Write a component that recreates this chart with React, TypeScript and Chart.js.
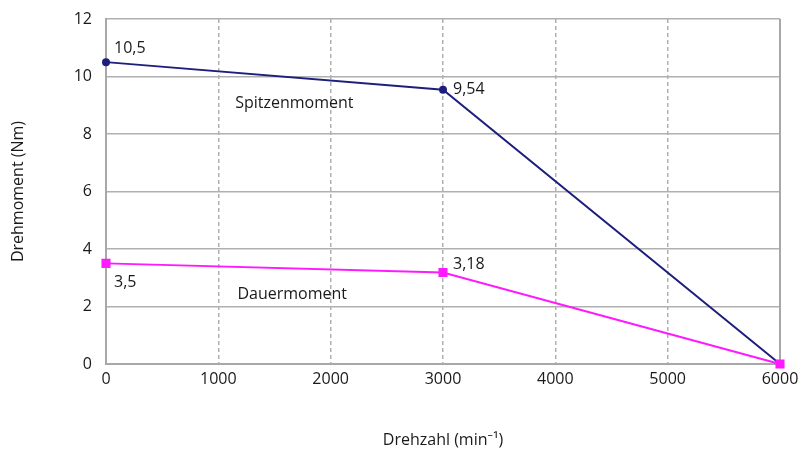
import React, { useEffect, useRef } from "react";
import { Chart, registerables } from "chart.js";

Chart.register(...registerables);

const speeds = [0, 3000, 6000];
const peakTorque = [10.5, 9.54, 0];
const contTorque = [3.5, 3.18, 0];
const peakLabels = ["10,5", "9,54", ""];
const contLabels = ["3,5", "3,18", ""];
const xTicks = [0, 1000, 2000, 3000, 4000, 5000, 6000];
const yTicks = [0, 2, 4, 6, 8, 10, 12];
const seriesNames = ["Spitzenmoment", "Dauermoment"];
const seriesNamePos = [
  { x: 1150, y: 9.05 },
  { x: 1170, y: 2.43 },
];

const FONT = "'Open Sans', 'Noto Sans', sans-serif";
const NAVY = "#1e1e7c";
const MAGENTA = "#ff19ff";
const TEXT = "#1a1a1a";

const labelOffsets = [
  [
    { dx: 8, dy: -14 },
    { dx: 10, dy: 0 },
  ],
  [
    { dx: 8, dy: 19 },
    { dx: 10, dy: -8 },
  ],
];

const labelPlugin = {
  id: "valueLabels",
  afterDatasetsDraw(chart: any) {
    const ctx = chart.ctx;
    ctx.save();
    ctx.fillStyle = TEXT;
    ctx.font = `16px ${FONT}`;
    ctx.textAlign = "left";
    ctx.textBaseline = "middle";
    const all = [peakLabels, contLabels];
    all.forEach((labels, di) => {
      const meta = chart.getDatasetMeta(di);
      labels.forEach((t, i) => {
        if (!t) return;
        const el = meta.data[i];
        const off = labelOffsets[di][i];
        ctx.fillText(t, el.x + off.dx, el.y + off.dy);
      });
    });
    const xs = chart.scales.x;
    const ys = chart.scales.y;
    seriesNames.forEach((n, i) => {
      ctx.fillText(n, xs.getPixelForValue(seriesNamePos[i].x), ys.getPixelForValue(seriesNamePos[i].y));
    });
    ctx.restore();
  },
};

export default function App() {
  const ref = useRef<HTMLCanvasElement>(null);
  useEffect(() => {
    if (!ref.current) return;
    const chart = new Chart(ref.current, {
      type: "line",
      data: {
        datasets: [
          {
            label: seriesNames[0],
            data: speeds.map((x, i) => ({ x, y: peakTorque[i] })),
            borderColor: NAVY,
            backgroundColor: NAVY,
            borderWidth: 2,
            pointStyle: "circle",
            pointRadius: 3,
            tension: 0,
            clip: false,
            order: 1,
          },
          {
            label: seriesNames[1],
            data: speeds.map((x, i) => ({ x, y: contTorque[i] })),
            borderColor: MAGENTA,
            backgroundColor: MAGENTA,
            borderWidth: 2,
            pointStyle: "rect",
            pointRadius: 5,
            tension: 0,
            clip: false,
            order: 0,
          },
        ],
      },
      options: {
        animation: false,
        responsive: false,
        maintainAspectRatio: false,
        layout: { padding: { top: 19, right: 22, left: 0, bottom: 0 } },
        plugins: { legend: { display: false }, tooltip: { enabled: false } },
        scales: {
          x: {
            type: "linear",
            min: 0,
            max: 6000,
            afterBuildTicks: (s: any) => {
              s.ticks = xTicks.map((v) => ({ value: v }));
            },
            afterFit: (s: any) => {
              s.height = 92;
              s.paddingLeft = 0;
              s.paddingRight = 0;
            },
            ticks: {
              color: TEXT,
              font: { family: FONT, size: 16 },
              padding: 6,
              maxRotation: 0,
              callback: (v: any) => String(v),
            },
            grid: {
              color: "#b0b0b0",
              lineWidth: 1.5,
              drawTicks: false,
            },
            border: { display: true, color: "#a8a8a8", width: 2, dash: [4, 3] },
            title: {
              display: true,
              text: "Drehzahl (min\u207B\u00B9)",
              color: TEXT,
              font: { family: FONT, size: 16 },
              padding: { top: 0, bottom: 6 },
            },
          },
          y: {
            type: "linear",
            min: 0,
            max: 12,
            afterBuildTicks: (s: any) => {
              s.ticks = yTicks.map((v) => ({ value: v }));
            },
            afterFit: (s: any) => {
              s.width = 106;
              s.paddingTop = 0;
              s.paddingBottom = 0;
            },
            ticks: {
              color: TEXT,
              font: { family: FONT, size: 16 },
              padding: 14,
              callback: (v: any) => String(v),
            },
            grid: { color: "#b0b0b0", lineWidth: 1.5, drawTicks: false },
            border: { display: true, color: "#a8a8a8", width: 2 },
            title: {
              display: true,
              text: "Drehmoment (Nm)",
              color: TEXT,
              font: { family: FONT, size: 16 },
              padding: { top: 9, bottom: 0 },
            },
          },
        },
      },
      plugins: [
        labelPlugin,
        {
          id: "rightBorder",
          beforeDatasetsDraw(chart: any) {
            const ctx = chart.ctx;
            const a = chart.chartArea;
            ctx.save();
            ctx.strokeStyle = "#a8a8a8";
            ctx.lineWidth = 2;
            ctx.beginPath();
            ctx.moveTo(a.right, a.top);
            ctx.lineTo(a.right, a.bottom);
            ctx.stroke();
            ctx.restore();
          },
        },
      ],
    } as any);
    return () => chart.destroy();
  }, []);
  return (
    <div style={{ position: "fixed", left: 0, top: 0, width: 802, height: 456, background: "#fff" }}>
      <canvas ref={ref} width={802} height={456} style={{ width: 802, height: 456 }} />
    </div>
  );
}
